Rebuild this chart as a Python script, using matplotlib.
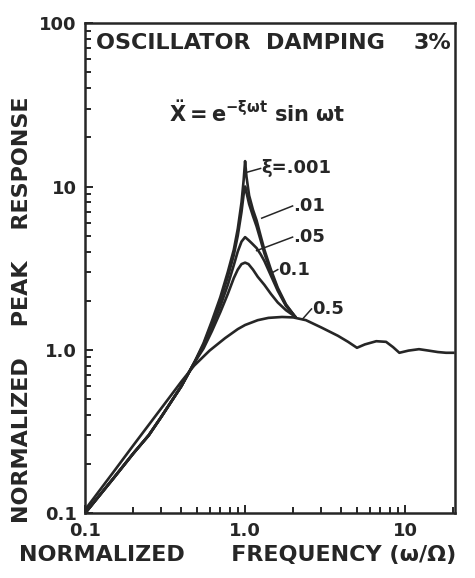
import numpy as np
import matplotlib
matplotlib.use("Agg")
import matplotlib.pyplot as plt
from matplotlib.ticker import LogLocator, NullFormatter, FixedLocator, FixedFormatter

# Normalized frequency / peak response readings for each input damping value
x_low = [0.1, 0.15, 0.2, 0.25, 0.3, 0.4, 0.48]
y_low = [0.1, 0.163, 0.232, 0.30, 0.39, 0.60, 0.83]

x_001 = x_low + [0.55, 0.62, 0.7, 0.78, 0.85, 0.9, 0.95, 0.98, 1.0, 1.02, 1.06, 1.12, 1.18, 1.25, 1.32, 1.45, 1.6, 1.8, 2.05]
y_001 = y_low + [1.1, 1.5, 2.1, 3.0, 4.1, 5.5, 8.0, 11.0, 14.3, 11.5, 8.8, 7.2, 6.2, 5.0, 4.1, 3.1, 2.4, 1.9, 1.6]

x_01 = x_low + [0.55, 0.62, 0.7, 0.78, 0.85, 0.9, 0.95, 0.98, 1.0, 1.02, 1.06, 1.12, 1.18, 1.25, 1.32, 1.45, 1.6, 1.8, 2.05]
y_01 = y_low + [1.08, 1.45, 2.0, 2.8, 3.8, 5.0, 7.0, 9.0, 10.0, 9.2, 7.8, 6.6, 5.7, 4.7, 3.9, 3.0, 2.35, 1.88, 1.6]

x_05 = x_low + [0.55, 0.62, 0.7, 0.78, 0.85, 0.9, 0.95, 1.0, 1.05, 1.1, 1.18, 1.25, 1.32, 1.45, 1.6, 1.8, 2.05]
y_05 = y_low + [1.05, 1.38, 1.85, 2.5, 3.3, 4.0, 4.6, 4.9, 4.7, 4.5, 4.2, 3.85, 3.5, 2.85, 2.3, 1.86, 1.6]

x_1 = x_low + [0.55, 0.62, 0.7, 0.78, 0.85, 0.9, 0.95, 1.0, 1.05, 1.12, 1.2, 1.32, 1.45, 1.6, 1.8, 2.05]
y_1 = y_low + [1.02, 1.3, 1.7, 2.2, 2.75, 3.1, 3.35, 3.42, 3.35, 3.1, 2.8, 2.5, 2.2, 1.95, 1.75, 1.6]

x_5 = [0.1, 0.15, 0.2, 0.3, 0.4, 0.48, 0.6, 0.75, 0.9, 1.0, 1.2, 1.4, 1.7, 2.0, 2.4, 3.0,
       3.8, 4.4, 5.0, 5.6, 6.6, 7.6, 8.4, 9.2, 10.5, 12.2, 14.0, 16.0, 18.0, 20.0]
y_5 = [0.105, 0.178, 0.26, 0.44, 0.64, 0.8, 0.99, 1.18, 1.34, 1.42, 1.52, 1.57, 1.59, 1.58, 1.52, 1.37,
       1.22, 1.12, 1.03, 1.08, 1.13, 1.12, 1.04, 0.96, 0.99, 1.01, 0.99, 0.97, 0.96, 0.96]

x_ticks = [0.1, 1.0, 10]
x_tick_labels = ["0.1", "1.0", "10"]
y_ticks = [0.1, 1.0, 10, 100]
y_tick_labels = ["0.1", "1.0", "10", "100"]

ink = "#262626"
plt.rcParams["font.family"] = ["DejaVu Sans"]
plt.rcParams["font.weight"] = "bold"
plt.rcParams["mathtext.default"] = "bf"

fig = plt.figure(figsize=(4.75, 5.78), dpi=100, facecolor="white")
ax = fig.add_axes([0.179, 0.112, 0.779, 0.848])
ax.set_xscale("log")
ax.set_yscale("log")
ax.set_xlim(0.1, 20.5)
ax.set_ylim(0.1, 100)

for xs, ys in [(x_5, y_5), (x_1, y_1), (x_05, y_05), (x_01, y_01), (x_001, y_001)]:
    ax.plot(xs, ys, color=ink, lw=1.9, solid_joinstyle="round")

for s in ax.spines.values():
    s.set_linewidth(1.8)
    s.set_color(ink)

ax.xaxis.set_major_locator(FixedLocator(x_ticks))
ax.xaxis.set_major_formatter(FixedFormatter(x_tick_labels))
ax.yaxis.set_major_locator(FixedLocator(y_ticks))
ax.yaxis.set_major_formatter(FixedFormatter(y_tick_labels))
ax.xaxis.set_minor_locator(LogLocator(base=10, subs=np.arange(2, 10)))
ax.yaxis.set_minor_locator(LogLocator(base=10, subs=np.arange(2, 10)))
ax.xaxis.set_minor_formatter(NullFormatter())
ax.yaxis.set_minor_formatter(NullFormatter())
ax.tick_params(which="both", direction="in", top=False, right=False, color=ink, width=1.4)
ax.tick_params(which="major", length=6, labelsize=13, labelcolor=ink, pad=6)
ax.tick_params(which="minor", length=4)

lab = dict(color=ink, fontsize=16, fontweight="bold")
# Axis titles placed in figure coordinates
fig.text(0.5, 0.04, "NORMALIZED      FREQUENCY (\u03c9/\u03a9)", ha="center", va="center", **lab)
fig.text(0.046, 0.464, "NORMALIZED    PEAK    RESPONSE", rotation=90, ha="center", va="center", **lab)

ax.text(0.03, 0.98, "OSCILLATOR  DAMPING", transform=ax.transAxes, ha="left", va="top", **lab)
ax.text(0.99, 0.98, "3%", transform=ax.transAxes, ha="right", va="top", **lab)
ax.text(0.465, 0.815, r"$\ddot{X} = e^{-\xi\omega t}\ sin\ \omega t$", transform=ax.transAxes,
        ha="center", va="center", color=ink, fontsize=15)

# Curve labels with short leader lines
lab_small = dict(color=ink, fontsize=13, fontweight="bold")
labels = [
    ("\u03be=.001", (1.02, 12.2), (1.25, 12.9)),
    (".01", (1.27, 6.4), (1.98, 7.6)),
    (".05", (1.18, 4.05), (1.98, 4.9)),
    ("0.1", (1.48, 2.97), (1.6, 3.1)),
    ("0.5", (2.28, 1.54), (2.6, 1.78)),
]
for txt, p0, p1 in labels:
    ax.plot([p0[0], p1[0]], [p0[1], p1[1]], color=ink, lw=1.1)
    ax.text(p1[0] * 1.01, p1[1], txt, ha="left", va="center", **lab_small)

fig.savefig("out.png", dpi=100, facecolor="white")
